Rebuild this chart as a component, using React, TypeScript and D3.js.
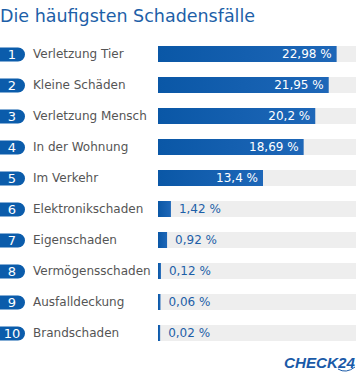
import React, { useEffect, useRef } from "react";
import * as d3 from "d3";

const categories = [
  "Verletzung Tier",
  "Kleine Schäden",
  "Verletzung Mensch",
  "In der Wohnung",
  "Im Verkehr",
  "Elektronikschaden",
  "Eigenschaden",
  "Vermögensschaden",
  "Ausfalldeckung",
  "Brandschaden",
];
const values = [22.98, 21.95, 20.2, 18.69, 13.4, 1.42, 0.92, 0.12, 0.06, 0.02];
const valueLabels = ["22,98 %", "21,95 %", "20,2 %", "18,69 %", "13,4 %", "1,42 %", "0,92 %", "0,12 %", "0,06 %", "0,02 %"];

const title = "Die häufigsten Schadensfälle";

const width = 364;
const height = 381;
const blue = "#0b5cab";
const font = "'DejaVu Sans', Verdana, sans-serif";

function App() {
  const ref = useRef<SVGSVGElement>(null);

  useEffect(() => {
    const svg = d3.select(ref.current);
    svg.selectAll("*").remove();

    const trackX = 158;
    const trackW = 198;

    const y = d3
      .scaleBand()
      .domain(categories)
      .range([46, 46 + 31 * 10 - 15])
      .paddingInner(15 / 31)
      .paddingOuter(0);
    // bars have a small minimum width
    const x = d3.scaleLinear().domain([0, 25.5]).range([2, trackW]);

    const defs = svg.append("defs");
    const grad = defs.append("linearGradient").attr("id", "barGrad").attr("x1", 0).attr("x2", 1);
    grad.append("stop").attr("offset", "0%").attr("stop-color", "#0a57a6");
    grad.append("stop").attr("offset", "100%").attr("stop-color", "#1e67b8");

    // Titel
    svg
      .append("text")
      .attr("x", 0)
      .attr("y", 21.5)
      .attr("fill", "#1d5fa8")
      .attr("font-family", font)
      .attr("font-size", "17.5px")
      .text(title);

    const rows = svg
      .selectAll("g.row")
      .data(categories)
      .join("g")
      .attr("class", "row")
      .attr("transform", (d) => `translate(0,${y(d)})`);

    const bh = y.bandwidth();

    // Nummern-Badges
    rows
      .append("path")
      .attr("d", () => {
        const h = 14;
        const top = (bh - h) / 2 + 0.5;
        const r = h / 2;
        return `M0,${top}H${25 - r}A${r},${r} 0 0 1 ${25 - r},${top + h}H0Z`;
      })
      .attr("fill", blue);

    rows
      .append("text")
      .attr("x", 12)
      .attr("y", bh / 2 + 0.5)
      .attr("dy", "0.36em")
      .attr("text-anchor", "middle")
      .attr("fill", "#fff")
      .attr("font-family", font)
      .attr("font-size", "13px")
      .text((d, i) => String(i + 1));

    // Kategorien
    rows
      .append("text")
      .attr("x", 33)
      .attr("y", bh / 2)
      .attr("dy", "0.36em")
      .attr("fill", "#555")
      .attr("font-family", font)
      .attr("font-size", "12px")
      .text((d) => d);

    // Hintergrund
    rows
      .append("rect")
      .attr("x", trackX)
      .attr("width", trackW)
      .attr("height", bh)
      .attr("fill", "#eeeeee");

    // Balken
    rows
      .append("rect")
      .attr("x", trackX)
      .attr("width", (d, i) => x(values[i]))
      .attr("height", bh)
      .attr("fill", "url(#barGrad)");

    // Werte
    rows
      .append("text")
      .attr("x", (d, i) => (values[i] > 5 ? trackX + x(values[i]) - 5 : trackX + x(values[i]) + 8))
      .attr("y", bh / 2)
      .attr("dy", "0.36em")
      .attr("text-anchor", (d, i) => (values[i] > 5 ? "end" : "start"))
      .attr("fill", (d, i) => (values[i] > 5 ? "#fff" : "#1d5fa8"))
      .attr("font-family", font)
      .attr("font-size", "12px")
      .text((d, i) => valueLabels[i]);

    // Logo
    const logo = svg.append("g");
    logo
      .append("text")
      .attr("x", 284)
      .attr("y", 368)
      .attr("fill", "#1a5aa8")
      .attr("font-family", "'Liberation Sans', Arial, sans-serif")
      .attr("font-weight", "bold")
      .attr("font-style", "italic")
      .attr("font-size", "14px")
      .attr("textLength", 71)
      .attr("lengthAdjust", "spacingAndGlyphs")
      .text("CHECK24");
    logo
      .append("path")
      .attr("d", "M338,369 Q346,374 355,367")
      .attr("fill", "none")
      .attr("stroke", "#1a5aa8")
      .attr("stroke-width", 1);
  }, []);

  return (
    <svg
      ref={ref}
      width={width}
      height={height}
      style={{ position: "absolute", left: 0, top: 0, background: "#fff" }}
    />
  );
}

export default App;
